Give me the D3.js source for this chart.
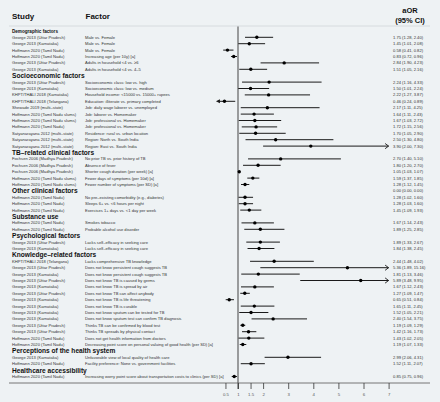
<!DOCTYPE html>
<html><head><meta charset="utf-8">
<script src="https://cdn.jsdelivr.net/npm/d3@7"></script>
<style>
html,body{margin:0;padding:0;background:#eef2f4;}
svg{display:block;font-family:"Liberation Sans",Arial,Helvetica,sans-serif;}
</style></head>
<body><svg id="chart" width="440" height="402"></svg>
<script>
const sections = ["Demographic factors","Socioeconomic factors","TB\u2013related clinical factors","Other clinical factors","Substance use","Psychological factors","Knowledge\u2013related factors","Perceptions of the health system","Healthcare accessibility"];

const studies = [
"Demographic factors",
"George 2013 (Uttar Pradesh)","George 2013 (Karnataka)","Hoffmann 2020 (Tamil Nadu)","Hoffmann 2020 (Tamil Nadu)","George 2013 (Uttar Pradesh)","George 2013 (Karnataka)",
"Socioeconomic factors",
"George 2013 (Uttar Pradesh)","George 2013 (Karnataka)","KHPT/THALI 2018 (Karnataka)","KHPT/THALI 2018 (Telangana)","Shewade 2019 (multi\u2013state)","Hoffmann 2020 (Tamil Nadu slums)","Hoffmann 2020 (Tamil Nadu slums)","Hoffmann 2020 (Tamil Nadu)","Satyanarayana 2012 (multi\u2013state)","Satyanarayana 2012 (multi\u2013state)","Satyanarayana 2012 (multi\u2013state)",
"TB\u2013related clinical factors",
"Fochsen 2006 (Madhya Pradesh)","Fochsen 2006 (Madhya Pradesh)","Fochsen 2006 (Madhya Pradesh)","Hoffmann 2020 (Tamil Nadu slums)","Hoffmann 2020 (Tamil Nadu slums)",
"Other clinical factors",
"Hoffmann 2020 (Tamil Nadu)","Hoffmann 2020 (Tamil Nadu)","Hoffmann 2020 (Tamil Nadu)",
"Substance use",
"Hoffmann 2020 (Tamil Nadu)","Hoffmann 2020 (Tamil Nadu)",
"Psychological factors",
"George 2013 (Uttar Pradesh)","George 2013 (Karnataka)",
"Knowledge\u2013related factors",
"KHPT/THALI 2018 (Telangana)","George 2013 (Uttar Pradesh)","George 2013 (Karnataka)","George 2013 (Uttar Pradesh)","George 2013 (Karnataka)","George 2013 (Uttar Pradesh)","George 2013 (Karnataka)","George 2013 (Karnataka)","George 2013 (Karnataka)","George 2013 (Karnataka)","George 2013 (Uttar Pradesh)","George 2013 (Uttar Pradesh)","Hoffmann 2020 (Tamil Nadu)","Hoffmann 2020 (Tamil Nadu)",
"Perceptions of the health system",
"George 2013 (Karnataka)","Hoffmann 2020 (Tamil Nadu)",
"Healthcare accessibility",
"Hoffmann 2020 (Tamil Nadu)"
];

const factors = [
"",
"Male vs. Female","Male vs. Female","Male vs. Female","Increasing age (per 10y) [a]","Adults in household <4 vs. \u22656","Adults in household <4 vs. 4\u20135",
"",
"Socioeconomic class: low vs. high","Socioeconomic class: low vs. medium","Household income: <15000 vs. 15000+ rupees","Education: illiterate vs. primary completed","Job: daily wage laborer vs. unemployed","Job: laborer vs. Homemaker","Job: professional vs. Homemaker","Job: professional vs. Homemaker","Residence: rural vs. urban location","Region: North vs. South India","Region: East vs. South India",
"",
"No prior TB vs. prior history of TB","Absence of fever","Shorter cough duration (per week) [a]","Fewer days of symptoms (per 10d) [a]","Fewer number of symptoms (per SD) [a]",
"",
"No pre\u2013existing comorbidity (e.g., diabetes)","Sleeps 6+ vs. <6 hours per night","Exercises 1+ days vs. <1 day per week",
"",
"Smokes tobacco","Probable alcohol use disorder",
"",
"Lacks self\u2013efficacy in seeking care","Lacks self\u2013efficacy in seeking care",
"",
"Lacks comprehensive TB knowledge","Does not know persistent cough suggests TB","Does not know persistent cough suggests TB","Does not know TB is caused by germs","Does not know TB is spread by air","Does not know TB can affect anybody","Does not know TB is life threatening","Does not know TB is curable","Does not know sputum can be tested for TB","Does not know sputum test can confirm TB diagnosis","Thinks TB can be confirmed by blood test","Thinks TB spreads by physical contact","Does not get health information from doctors","Decreasing point score on personal valuing of good health (per SD) [a]",
"",
"Unfavorable view of local quality of health care","Facility preference: None vs. government facilities",
"",
"Increasing worry point score about transportation costs to clinics (per SD) [a]"
];

const aor = [null,1.75,1.45,0.58,0.83,2.84,1.51, null,2.24,1.50,2.22,0.46,2.17,1.64,1.67,1.72,1.70,2.50,3.90, null,2.70,1.80,1.05,1.59,1.28, 0,1.28,1.28,1.45, null,1.67,1.89, null,1.89,1.84, null,2.44,5.36,1.81,5.89,1.67,1.27,0.65,1.65,1.52,2.40,1.19,1.42,1.43,1.19, null,2.99,1.52, null,0.85];
const ciLow = [null,1.28,1.01,0.41,0.72,1.90,1.05, null,1.16,1.01,1.27,0.24,1.11,1.11,1.03,1.15,1.05,1.30,2.00, null,1.40,1.20,1.03,1.37,1.12, 0,1.02,1.03,1.09, null,1.14,1.25, null,1.33,1.38, null,1.48,1.89,1.13,3.48,1.12,1.09,0.51,1.11,1.05,1.54,1.09,1.16,1.02,1.07, null,2.06,1.11, null,0.75];
const ciHigh = [null,2.40,2.08,0.82,0.96,4.23,2.16, null,4.33,2.24,3.87,0.89,4.25,2.43,2.72,2.56,2.90,4.80,7.30, null,5.10,2.70,1.07,1.85,1.45, 0,1.60,1.60,1.93, null,2.43,2.85, null,2.67,2.45, null,4.02,15.16,3.46,9.95,2.43,1.47,0.84,2.45,2.21,3.75,1.29,1.73,2.05,1.33, null,4.31,2.07, null,0.96];

const tickValues = [0.5,1,1.5,2,3,4,5,6,7];

const svg = d3.select("#chart");
const x = d3.scaleLinear().domain([0,7]).range([212.9,388.6]);
const xMin = 0.12, xMax = 7;
const y = d3.scaleLinear().domain([0,54]).range([30.9,376.5]);
const n = studies.length;

// header
svg.append("text").attr("x",12).attr("y",19).attr("font-size",8).attr("font-weight","bold").attr("fill","#111").text("Study");
svg.append("text").attr("x",85.5).attr("y",19).attr("font-size",8).attr("font-weight","bold").attr("fill","#111").text("Factor");
svg.append("text").attr("x",410).attr("y",12.5).attr("text-anchor","middle").attr("font-size",7.5).attr("font-weight","bold").attr("fill","#111").text("aOR");
svg.append("text").attr("x",410).attr("y",22.5).attr("text-anchor","middle").attr("font-size",7.5).attr("font-weight","bold").attr("fill","#111").text("(95% CI)");

svg.append("line").attr("x1",9).attr("x2",430).attr("y1",26).attr("y2",26).attr("stroke","#cfd5d9").attr("stroke-width",0.8);

// reference line
svg.append("line").attr("x1",x(1)).attr("x2",x(1)).attr("y1",26.5).attr("y2",389).attr("stroke","#444").attr("stroke-width",1);

const idx = d3.range(n);
const isHeader = i => sections.includes(studies[i]);

// study / header text
svg.append("g").selectAll("text").data(idx).join("text")
  .attr("x",12)
  .attr("y",i => isHeader(i) ? y(i) + (i===0 ? 1.6 : 2.4) : y(i)+1.4)
  .attr("font-size",i => isHeader(i) ? (i===0 ? 4.6 : 6.6) : 4.1)
  .attr("font-weight",i => isHeader(i) ? "bold" : "normal")
  .attr("fill",i => isHeader(i) ? "#111" : "#333")
  .text(i => studies[i]);

svg.append("g").selectAll("text").data(idx.filter(i => !isHeader(i))).join("text")
  .attr("x",85).attr("y",i => y(i)+1.4).attr("font-size",4.1).attr("fill","#333")
  .text(i => factors[i]);

const f2 = d3.format(".2f");
svg.append("g").selectAll("text").data(idx.filter(i => aor[i] !== null)).join("text")
  .attr("x",393).attr("y",i => y(i)+1.4).attr("font-size",4.1).attr("fill","#333")
  .text(i => `${f2(aor[i])} (${f2(ciLow[i])}, ${f2(ciHigh[i])})`);

// CI lines
const marks = idx.filter(i => aor[i] !== null && aor[i] > 0);
const g = svg.append("g");
marks.forEach(i => {
  const lo = Math.max(ciLow[i], xMin), hi = Math.min(ciHigh[i], xMax);
  const yy = y(i);
  g.append("line").attr("x1",x(lo)).attr("x2",x(hi)).attr("y1",yy).attr("y2",yy)
    .attr("stroke","#1a1a1a").attr("stroke-width",1);
  if (ciHigh[i] > xMax) {
    g.append("path").attr("d",`M${x(xMax)-3.5},${yy-2.6}L${x(xMax)},${yy}L${x(xMax)-3.5},${yy+2.6}`)
      .attr("fill","none").attr("stroke","#1a1a1a").attr("stroke-width",0.9);
  }
  if (ciLow[i] < 0.3) {
    g.append("path").attr("d",`M${x(xMin)},${yy}L${x(xMin)+4},${yy-2}L${x(xMin)+4},${yy+2}Z`)
      .attr("fill","#1a1a1a");
  }
  g.append("circle").attr("cx",x(aor[i])).attr("cy",yy).attr("r",1.7).attr("fill","#000");
});

// bottom axis line + ticks
svg.append("line").attr("x1",9).attr("x2",430).attr("y1",383).attr("y2",383).attr("stroke","#555").attr("stroke-width",0.8);
const axis = d3.axisBottom(x).tickValues(tickValues).tickSize(6).tickFormat(d3.format("~g"));
const ag = svg.append("g").attr("transform","translate(0,383)").call(axis);
ag.select(".domain").remove();
ag.selectAll(".tick line").attr("stroke","#333").attr("stroke-width",0.8);
ag.selectAll(".tick text").attr("font-size",4.3).attr("fill","#555").attr("dy","0.9em").attr("font-family","Liberation Sans, Arial, sans-serif");
</script></body></html>
